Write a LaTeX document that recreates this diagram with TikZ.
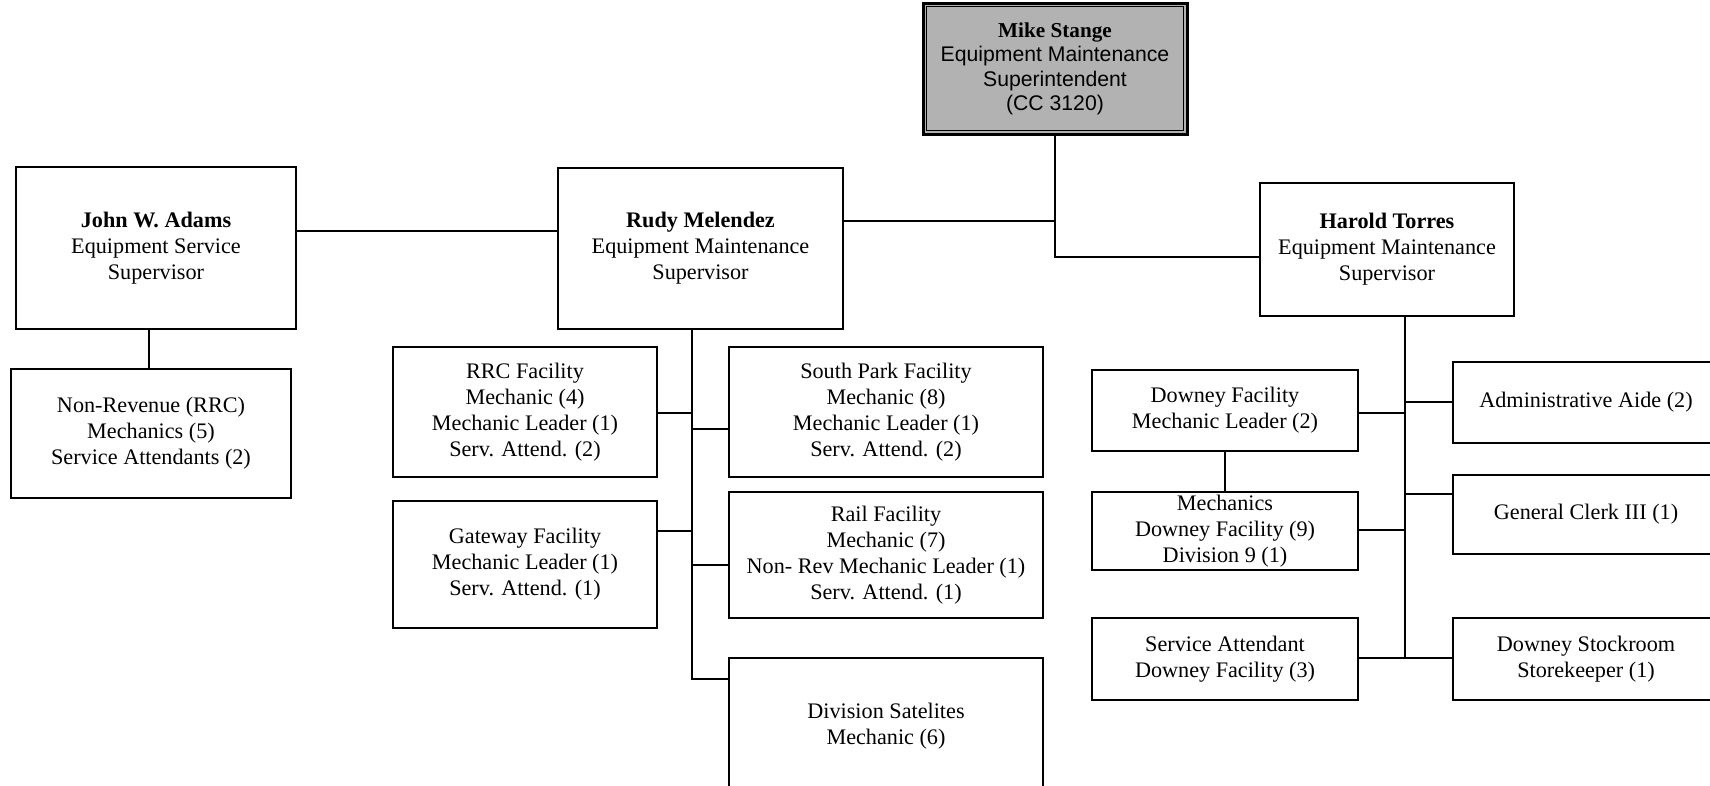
\documentclass[tikz,border=0pt]{standalone}
\usepackage{fontspec}
\setmainfont{Liberation Serif}
\newfontfamily\sansf{Liberation Sans}
\tikzset{
  orgbox/.style={draw, line width=2pt, rectangle, align=center, inner sep=0pt,
    font=\fontsize{22.2}{26}\selectfont},
  mikebox/.style={draw, line width=3pt, rectangle, align=center, inner sep=0pt,
    fill=black!30, font=\sansf\fontsize{21.2}{24.5}\selectfont},
  link/.style={line width=2pt},
}
\begin{document}
\begin{tikzpicture}[x=1pt,y=-1pt]
\useasboundingbox (0,0) rectangle (1710,786);
\clip (0,0) rectangle (1710,786);

% top
\node[mikebox, minimum width=264pt, minimum height=131pt] (mike) at (1055,69)
  {{\rmfamily\bfseries Mike Stange}\\Equipment Maintenance\\Superintendent\\(CC 3120)};
\draw[line width=1pt] ([shift={(5pt,-5pt)}]mike.north west) rectangle ([shift={(-5pt,5pt)}]mike.south east);

% supervisors
\node[orgbox, minimum width=280pt, minimum height=162pt] (john) at (156,248)
  {\textbf{John W. Adams}\\Equipment Service\\Supervisor};
\node[orgbox, minimum width=285pt, minimum height=161pt] (rudy) at (700.5,248.5)
  {\textbf{Rudy Melendez}\\Equipment Maintenance\\Supervisor};
\node[orgbox, minimum width=254pt, minimum height=133pt] (harold) at (1387,249.5)
  {\textbf{Harold Torres}\\Equipment Maintenance\\Supervisor};

% John's unit
\node[orgbox, minimum width=280pt, minimum height=129pt] (nonrev) at (151,433.5)
  {Non-Revenue (RRC)\\Mechanics (5)\\Service Attendants (2)};

% Rudy's units
\node[orgbox, minimum width=264pt, minimum height=130pt] (rrc) at (525,412)
  {RRC Facility\\Mechanic (4)\\Mechanic Leader (1)\\Serv. Attend. (2)};
\node[orgbox, minimum width=314pt, minimum height=130pt] (south) at (886,412)
  {South Park Facility\\Mechanic (8)\\Mechanic Leader (1)\\Serv. Attend. (2)};
\node[orgbox, minimum width=264pt, minimum height=127pt] (gateway) at (525,564.5)
  {Gateway Facility\\Mechanic Leader (1)\\Serv. Attend. (1)};
\node[orgbox, minimum width=314pt, minimum height=126pt] (rail) at (886,555)
  {Rail Facility\\Mechanic (7)\\Non- Rev Mechanic Leader (1)\\Serv. Attend. (1)};
\node[orgbox, minimum width=314pt, minimum height=136pt] (divsat) at (886,726)
  {Division Satelites\\Mechanic (6)};

% Harold's units
\node[orgbox, minimum width=266pt, minimum height=81pt] (df) at (1225,410.5)
  {Downey Facility\\Mechanic Leader (2)};
\node[orgbox, minimum width=266pt, minimum height=78pt] (md) at (1225,531)
  {Mechanics\\Downey Facility (9)\\Division 9 (1)};
\node[orgbox, minimum width=266pt, minimum height=82pt] (sa) at (1225,659)
  {Service Attendant\\Downey Facility (3)};
\node[orgbox, minimum width=266pt, minimum height=81pt] (admin) at (1586,402.5)
  {Administrative Aide (2)};
\node[orgbox, minimum width=266pt, minimum height=79pt] (gc) at (1586,514.5)
  {General Clerk III (1)};
\node[orgbox, minimum width=266pt, minimum height=82pt] (stock) at (1586,659)
  {Downey Stockroom\\Storekeeper (1)};

% connectors at the top
\coordinate (mj) at (1055,257);
\coordinate (rj) at (1055,221);
\coordinate (jr) at (0,231);
\coordinate (jn) at (149,0);
\draw[link] (mike.south) -- (mj) -- (mj -| harold.west);
\draw[link] (rudy.east |- rj) -- (rj);
\draw[link] (john.east |- jr) -- (rudy.west |- jr);
\draw[link] (jn |- john.south) -- (jn |- nonrev.north);

% Rudy's trunk
\coordinate (rt) at (692,679);
\draw[link] (rt |- rudy.south) -- (rt) -- (rt -| divsat.west);
\draw[link] (rrc.east |- 0,413) -- (rt |- 0,413);
\draw[link] (rt |- 0,429) -- (south.west |- 0,429);
\draw[link] (gateway.east |- 0,531) -- (rt |- 0,531);
\draw[link] (rt |- 0,565) -- (rail.west |- 0,565);

% Harold's trunk
\coordinate (ht) at (1405,658);
\draw[link] (ht |- harold.south) -- (ht);
\draw[link] (sa.east |- ht) -- (stock.west |- ht);
\draw[link] (df.east |- 0,413) -- (ht |- 0,413);
\draw[link] (md.east |- 0,530) -- (ht |- 0,530);
\draw[link] (ht |- 0,402) -- (admin.west |- 0,402);
\draw[link] (ht |- 0,494) -- (gc.west |- 0,494);
\draw[link] (df.south) -- (md.north);
\end{tikzpicture}
\end{document}
